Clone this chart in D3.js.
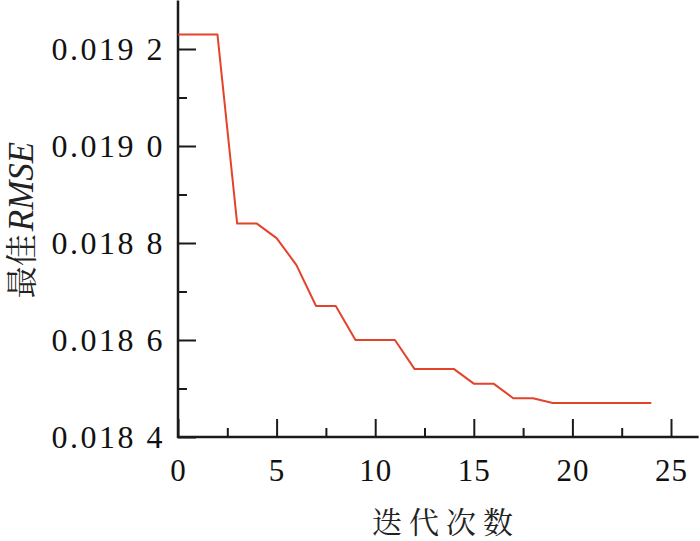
<!DOCTYPE html>
<html><head><meta charset="utf-8">
<script src="https://cdn.jsdelivr.net/npm/d3@7"></script>
<style>body{margin:0;background:#fff}svg{display:block}</style>
</head><body>
<svg id="c" width="700" height="541"></svg>
<script>
const iterations = [0,1,2,3,4,5,6,7,8,9,10,11,12,13,14,15,16,17,18,19,20,21,22,23,24];
const bestRMSE = [0.01923,0.01923,0.01923,0.01884,0.01884,0.01881,0.018755,0.01867,0.01867,0.0186,0.0186,0.0186,0.01854,0.01854,0.01854,0.01851,0.01851,0.01848,0.01848,0.01847,0.01847,0.01847,0.01847,0.01847,0.01847];
const xTicks = [0,5,10,15,20,25];
const xMinorTicks = [2.5,7.5,12.5,17.5,22.5];
const yTicks = [0.0184,0.0186,0.0188,0.0190,0.0192];
const yTickLabels = ["0.018 4","0.018 6","0.018 8","0.019 0","0.019 2"];
const yMinorTicks = [0.0185,0.0187,0.0189,0.0191];
const xTitle = "迭代次数";
const yTitleCN = "最佳";
const yTitleEN = "RMSE";

const SERIF = "font-family:'Liberation Serif',Times,serif";
const CJK = "font-family:'Noto Serif CJK SC','Noto Sans CJK SC',serif";

const svg = d3.select("#c");
const x = d3.scaleLinear().domain([0,25]).range([178,671]);
const y = d3.scaleLinear().domain([0.0184,0.0193]).range([437,0.5]);
const axisColor = "#1a1a1a";

// x axis ticks
const gx = svg.append("g").attr("transform",`translate(0,${y(0.0184)})`);
gx.call(d3.axisTop(x).tickValues(xTicks).tickSize(18).tickFormat(""))
  .call(g=>g.select(".domain").remove());
gx.append("g").call(d3.axisTop(x).tickValues(xMinorTicks).tickSize(9).tickFormat(""))
  .call(g=>g.select(".domain").remove());
gx.selectAll("line").attr("stroke",axisColor).attr("stroke-width",2);
gx.append("line").attr("x1",x(0)-1).attr("x2",x(26.4)).attr("stroke",axisColor).attr("stroke-width",2.5);

// y axis ticks
const gy = svg.append("g").attr("transform",`translate(${x(0)},0)`);
gy.call(d3.axisRight(y).tickValues(yTicks).tickSize(18).tickFormat(""))
  .call(g=>g.select(".domain").remove());
gy.append("g").call(d3.axisRight(y).tickValues(yMinorTicks).tickSize(9).tickFormat(""))
  .call(g=>g.select(".domain").remove());
gy.selectAll("line").attr("stroke",axisColor).attr("stroke-width",2);
gy.append("line").attr("y1",y(0.0184)+1).attr("y2",y(0.0193)).attr("stroke",axisColor).attr("stroke-width",2.5);

// tick labels
const labels = svg.append("g");
labels.selectAll("text.xl").data(xTicks).enter().append("text")
  .attr("style",SERIF+";font-size:31px;letter-spacing:1px").attr("fill","#111")
  .attr("x",d=>x(d)+0.5).attr("y",y(0.0184)+44).attr("text-anchor","middle")
  .text(d=>d);
labels.selectAll("text.yl").data(yTicks).enter().append("text")
  .attr("style",SERIF+";font-size:32px;letter-spacing:2.5px;white-space:pre").attr("fill","#111")
  .attr("x",x(0)-13).attr("y",d=>y(d)).attr("dy","0.35em").attr("text-anchor","end")
  .text((d,i)=>yTickLabels[i]);

// line
const line = d3.line().x((d,i)=>x(iterations[i])).y(d=>y(d));
svg.append("path").datum(bestRMSE).attr("d",line)
  .attr("fill","none").attr("stroke","#e4432b").attr("stroke-width",2).attr("stroke-linejoin","round");

// titles
svg.append("text").attr("style",CJK+";font-size:30px;letter-spacing:7px").attr("fill","#222")
  .attr("x",446).attr("y",533).attr("text-anchor","middle").text(xTitle);
const yt = svg.append("text").attr("transform","translate(33,220) rotate(-90)")
  .attr("text-anchor","middle").attr("fill","#222");
yt.append("tspan").attr("style",CJK+";font-size:32px").text(yTitleCN);
yt.append("tspan").attr("style",SERIF+";font-style:italic;font-size:35px").attr("dx",3).text(yTitleEN);
</script>
</body></html>
